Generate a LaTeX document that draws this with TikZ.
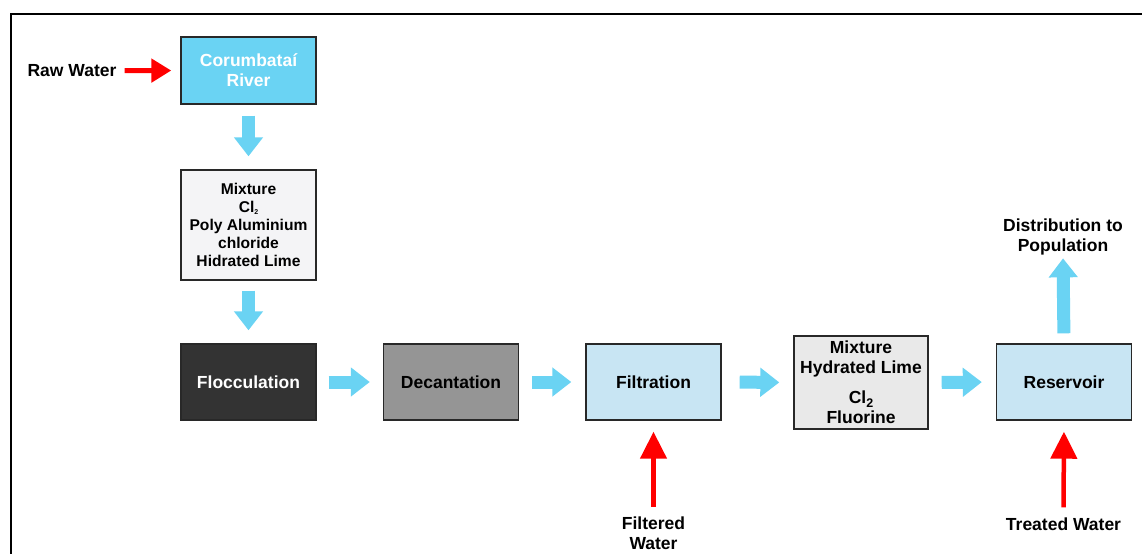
\documentclass[tikz,border=0pt]{standalone}
\usepackage{fontspec}
\setmainfont{Liberation Sans}
\usetikzlibrary{arrows.meta}
\definecolor{cyanbox}{RGB}{106,211,243}
\definecolor{arrowblue}{RGB}{106,211,243}
\definecolor{lightbluebox}{RGB}{200,229,243}
\definecolor{mixone}{RGB}{244,244,246}
\definecolor{mixtwo}{RGB}{233,233,233}
\definecolor{darkbox}{RGB}{51,51,51}
\definecolor{greybox}{RGB}{149,149,149}
\definecolor{boxline}{RGB}{40,40,40}
\definecolor{redarrow}{RGB}{255,0,0}
\begin{document}
\begin{tikzpicture}[x=1pt,y=-1pt,
  box/.style={draw=boxline,line width=1.4pt,inner sep=0pt,align=center,
    font=\bfseries\fontsize{17.5}{20}\selectfont},
  stdbox/.style={box,minimum width=135pt,minimum height=76pt},
  lbl/.style={inner sep=0pt,align=center,font=\bfseries\fontsize{17.5}{20}\selectfont},
  bluearrow/.style={draw=arrowblue,line width=13pt,
    -{Triangle[width=28pt,length=19pt]}},
  redup/.style={draw=redarrow,line width=4.5pt,
    -{Triangle[width=26pt,length=27pt]}},
  redright/.style={draw=redarrow,line width=5pt,
    -{Triangle[width=23pt,length=20pt]}}
]
\useasboundingbox (0,0) rectangle (1142,554);
\fill[white] (0,0) rectangle (1142,554);
\draw[line width=2pt] (1142,14) -- (10.5,14) -- (10.5,554);

% boxes
\node[box,fill=cyanbox,text=white,minimum width=135pt,minimum height=67pt] (river) at (248.5,70.5) {Corumbataí\\River};
\node[box,fill=mixone,minimum width=135pt,minimum height=110pt,
  font=\bfseries\fontsize{15.6}{18}\selectfont] (mixa) at (248.5,225)
  {Mixture\\Cl\raisebox{-2pt}{\fontsize{7}{7}\selectfont 2}\\Poly Aluminium\\chloride\\Hidrated Lime};
\node[stdbox,fill=darkbox,text=white] (flocc) at (248.5,382) {Flocculation};
\node[stdbox,fill=greybox,text=black] (decant) at (451,382) {Decantation};
\node[stdbox,fill=lightbluebox,text=black] (filt) at (653.5,382) {Filtration};
\node[box,fill=mixtwo,minimum width=134pt,minimum height=93pt] (mixb) at (861,382.5)
  {Mixture\\Hydrated Lime\\[10pt]Cl\raisebox{-4pt}{\fontsize{12.5}{12.5}\selectfont 2}\\Fluorine};
\node[stdbox,fill=lightbluebox,text=black] (res) at (1064,382) {Reservoir};

% labels
\node[lbl] (raw) at (72,70.7) {Raw Water};
\node[lbl] (dist) at (1063,237) {Distribution to\\Population};
\node[lbl] (filtw) at (653.5,533.5) {Filtered\\Water};
\node[lbl] (treat) at (1063.5,524) {Treated Water};

% blue arrows
\draw[bluearrow,shorten <=11pt,shorten >=13pt] (river.south) -- (mixa.north);
\draw[bluearrow,shorten <=10pt,shorten >=13pt] (mixa.south) -- (flocc.north);
\draw[bluearrow,shorten <=12pt,shorten >=13pt] (flocc.east) -- (decant.west);
\draw[bluearrow,shorten <=13pt,shorten >=14pt] (decant.east) -- (filt.west);
\draw[bluearrow,shorten <=18pt,shorten >=14pt] (filt.east) -- (mixb.west);
\draw[bluearrow,shorten <=13pt,shorten >=14pt] (mixb.east) -- (res.west);
\draw[bluearrow,shorten <=10pt,shorten >=3pt] (res.north) -- (dist.south);

% red arrows
\draw[redright,shorten <=8pt,shorten >=9pt] (raw.east) -- (river.west);
\draw[redup,shorten <=10pt,shorten >=11pt] (filtw.north) -- (filt.south);
\draw[redup,shorten <=10pt,shorten >=11pt] (treat.north) -- (res.south);
\end{tikzpicture}
\end{document}
